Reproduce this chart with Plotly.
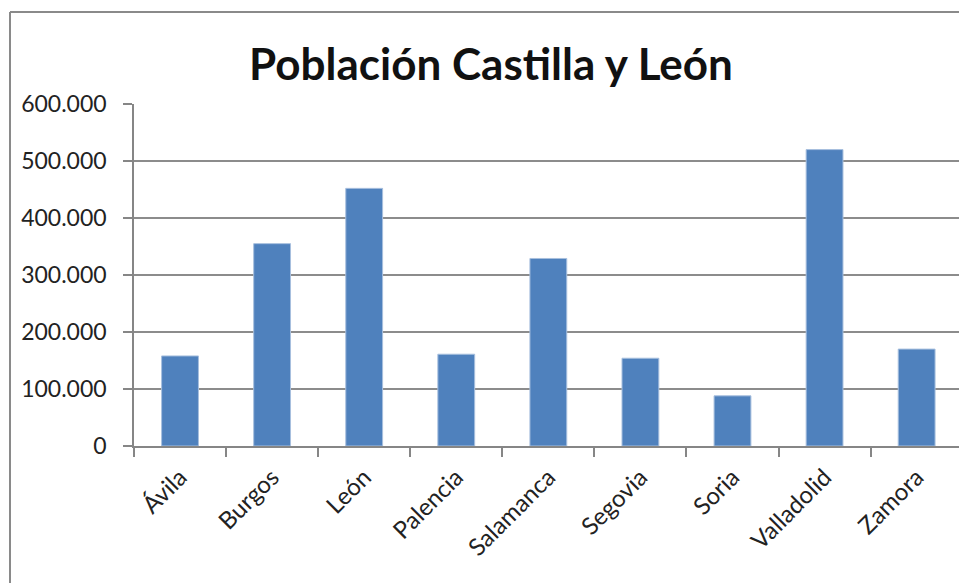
import plotly.graph_objects as go

provincias = ["Ávila", "Burgos", "León", "Palencia", "Salamanca",
              "Segovia", "Soria", "Valladolid", "Zamora"]
poblacion = [158000, 355000, 452000, 161000, 329000,
             154000, 88000, 520000, 170000]
y_ticks = [0, 100000, 200000, 300000, 400000, 500000, 600000]

W, H = 959, 583
L, R, T, B = 134, 0, 104, 137
pw = W - L - R

def px_x(p):
    return (p - L) / pw

def px_y(p):
    return 1 - (p - T) / (H - T - B)

fig = go.Figure(go.Bar(
    x=provincias, y=poblacion,
    marker=dict(color="#4F81BD", line=dict(color="#A7BFDE", width=1)),
    width=0.4,
))

fig.update_layout(
    width=W, height=H,
    margin=dict(l=L, r=R, t=T, b=B, pad=0),
    paper_bgcolor="white", plot_bgcolor="white",
    separators=",.",
    showlegend=False,
    font=dict(family="Lato", color="#222222"),
    title=dict(text="<b>Población Castilla y León</b>",
               font=dict(family="Lato", size=44, color="#111111"),
               x=491 / W, xref="container", xanchor="center",
               y=1 - 65 / H, yref="container", yanchor="middle"),
    shapes=[
        dict(type="line", xref="paper", yref="paper",
             x0=px_x(10), x1=px_x(10), y0=px_y(12), y1=px_y(H + 5),
             line=dict(color="#8a8a8a", width=2)),
        dict(type="line", xref="paper", yref="paper",
             x0=px_x(10), x1=px_x(W + 5), y0=px_y(12), y1=px_y(12),
             line=dict(color="#8a8a8a", width=2)),
    ],
)

fig.update_xaxes(
    type="category", range=[-0.5, 8.46],
    showline=True, linecolor="#868686", linewidth=1.5,
    ticks="outside", tickson="boundaries", ticklen=9,
    tickcolor="#868686", tickwidth=1.5,
    tickangle=-45, tickfont=dict(size=24, color="#222222"),
    ticklabelstandoff=6,
    showgrid=False,
)
fig.update_yaxes(
    range=[0, 600000], tickvals=y_ticks, tickformat=",d",
    showline=True, linecolor="#868686", linewidth=1.5,
    ticks="outside", ticklen=9, tickcolor="#868686", tickwidth=1.5,
    showgrid=True, gridcolor="#8c8c8c", gridwidth=1.5,
    zeroline=False,
    tickfont=dict(size=23, color="#222222"),
    ticklabelstandoff=12,
)

fig.write_html(
    "out.html",
    config={"displayModeBar": False},
    post_script="document.body.style.margin='0';document.body.style.overflow='hidden';",
)
